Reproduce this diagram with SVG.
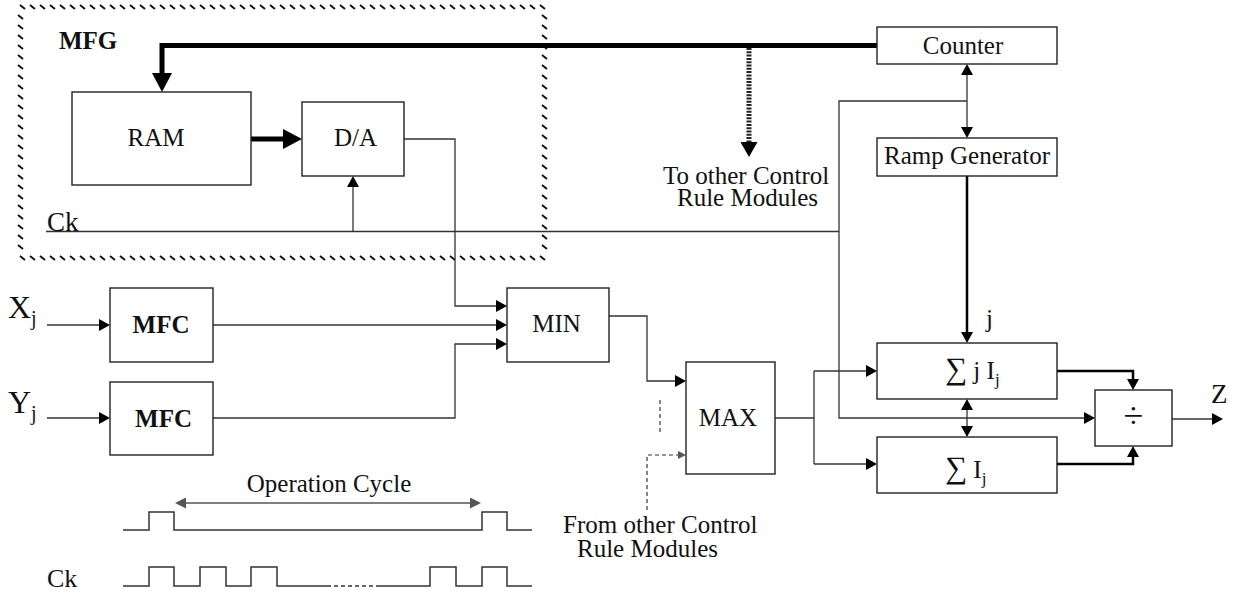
<svg xmlns="http://www.w3.org/2000/svg" width="1242" height="594" viewBox="0 0 1242 594">
<style>
.box{fill:#fff;stroke:#222;stroke-width:1.4}
.ln{fill:none;stroke:#333;stroke-width:1.3}
.thick{fill:none;stroke:#000;stroke-width:5}
.med{fill:none;stroke:#000;stroke-width:2.5}
.dash{fill:none;stroke:#333;stroke-width:1.2;stroke-dasharray:4 3}
.sig{fill:none;stroke:#333;stroke-width:1.5}
.tick{fill:none;stroke:#111;stroke-width:1.9}
.t{font-family:"Liberation Serif","Times New Roman",serif;font-size:25px;fill:#111}
.b{font-weight:bold}
</style>
<defs>
<marker id="a" markerUnits="userSpaceOnUse" markerWidth="11" markerHeight="12" viewBox="0 0 11 12" refX="0" refY="6" orient="auto-start-reverse">
<path d="M0,0 L11,6 L0,12 z" fill="#000"/>
</marker>
<marker id="big" markerUnits="userSpaceOnUse" markerWidth="19" markerHeight="20" viewBox="0 0 19 20" refX="0" refY="10" orient="auto">
<path d="M0,0 L19,10 L0,20 z" fill="#000"/>
</marker>
<marker id="mid" markerUnits="userSpaceOnUse" markerWidth="15" markerHeight="17" viewBox="0 0 15 17" refX="0" refY="8.5" orient="auto">
<path d="M0,0 L15,8.5 L0,17 z" fill="#000"/>
</marker>
<marker id="g" markerUnits="userSpaceOnUse" markerWidth="11" markerHeight="11" viewBox="0 0 11 11" refX="0" refY="5.5" orient="auto-start-reverse">
<path d="M0,0 L11,5.5 L0,11 z" fill="#555"/>
</marker>
<marker id="s" markerUnits="userSpaceOnUse" markerWidth="8" markerHeight="8" viewBox="0 0 8 8" refX="0" refY="4" orient="auto">
<path d="M0,0 L8,4 L0,8 z" fill="#555"/>
</marker>
</defs>
<rect width="1242" height="594" fill="#fff"/>

<g id="mfg-frame">
<path class="tick" d="M20,5 l5,4m5,-4l5,4m5,-4l5,4m5,-4l5,4m5,-4l5,4m5,-4l5,4m5,-4l5,4m5,-4l5,4m5,-4l5,4m5,-4l5,4m5,-4 l5,4m5,-4l5,4m5,-4l5,4m5,-4l5,4m5,-4l5,4m5,-4l5,4m5,-4l5,4m5,-4l5,4m5,-4l5,4m5,-4l5,4m5,-4 l5,4m5,-4l5,4m5,-4l5,4m5,-4l5,4m5,-4l5,4m5,-4l5,4m5,-4l5,4m5,-4l5,4m5,-4l5,4m5,-4l5,4m5,-4 l5,4m5,-4l5,4m5,-4l5,4m5,-4l5,4m5,-4l5,4m5,-4l5,4m5,-4l5,4m5,-4l5,4m5,-4l5,4m5,-4l5,4m5,-4 l5,4m5,-4l5,4m5,-4l5,4m5,-4l5,4m5,-4l5,4m5,-4l5,4m5,-4l5,4m5,-4l5,4m5,-4l5,4m5,-4l5,4m5,-4 l5,4m5,-4l5,4m5,-4l5,4"/>
<path class="tick" d="M20,256 l5,4m5,-4l5,4m5,-4l5,4m5,-4l5,4m5,-4l5,4m5,-4l5,4m5,-4l5,4m5,-4l5,4m5,-4l5,4m5,-4l5,4m5,-4 l5,4m5,-4l5,4m5,-4l5,4m5,-4l5,4m5,-4l5,4m5,-4l5,4m5,-4l5,4m5,-4l5,4m5,-4l5,4m5,-4l5,4m5,-4 l5,4m5,-4l5,4m5,-4l5,4m5,-4l5,4m5,-4l5,4m5,-4l5,4m5,-4l5,4m5,-4l5,4m5,-4l5,4m5,-4l5,4m5,-4 l5,4m5,-4l5,4m5,-4l5,4m5,-4l5,4m5,-4l5,4m5,-4l5,4m5,-4l5,4m5,-4l5,4m5,-4l5,4m5,-4l5,4m5,-4 l5,4m5,-4l5,4m5,-4l5,4m5,-4l5,4m5,-4l5,4m5,-4l5,4m5,-4l5,4m5,-4l5,4m5,-4l5,4m5,-4l5,4m5,-4 l5,4m5,-4l5,4m5,-4l5,4"/>
<path class="tick" d="M18,15 l5,4m-5,6l5,4m-5,6l5,4m-5,6l5,4m-5,6l5,4m-5,6l5,4m-5,6l5,4m-5,6l5,4m-5,6l5,4m-5,6l5,4m-5,6 l5,4m-5,6l5,4m-5,6l5,4m-5,6l5,4m-5,6l5,4m-5,6l5,4m-5,6l5,4m-5,6l5,4m-5,6l5,4m-5,6l5,4m-5,6 l5,4m-5,6l5,4m-5,6l5,4m-5,6l5,4"/>
<path class="tick" d="M542,15 l5,4m-5,6l5,4m-5,6l5,4m-5,6l5,4m-5,6l5,4m-5,6l5,4m-5,6l5,4m-5,6l5,4m-5,6l5,4m-5,6l5,4m-5,6 l5,4m-5,6l5,4m-5,6l5,4m-5,6l5,4m-5,6l5,4m-5,6l5,4m-5,6l5,4m-5,6l5,4m-5,6l5,4m-5,6l5,4m-5,6 l5,4m-5,6l5,4m-5,6l5,4m-5,6l5,4"/>
<text class="t b" x="59" y="49">MFG</text>
</g>

<g id="connectors">
<path class="thick" d="M877,45.5 H162 V73" marker-end="url(#big)"/>
<path class="thick" d="M251,139 H283" marker-end="url(#big)"/>
<path d="M749,48 V142" fill="none" stroke="#222" stroke-width="5" stroke-dasharray="2 1.3" marker-end="url(#mid)"/>
<path class="ln" d="M46,231.5 H839"/>
<path class="ln" d="M353,231.5 V187" marker-end="url(#a)"/>
<path class="ln" d="M404,139 H455 V306 H496" marker-end="url(#a)"/>
<path class="ln" d="M47,325 H99" marker-end="url(#a)"/>
<path class="ln" d="M47,418 H99" marker-end="url(#a)"/>
<path class="ln" d="M213,325 H496" marker-end="url(#a)"/>
<path class="ln" d="M213,418 H455 V344 H496" marker-end="url(#a)"/>
<path class="ln" d="M609,316 H647 V381 H675" marker-end="url(#a)"/>
<path class="dash" d="M660,400 V435"/>
<path class="dash" d="M647,510 V455 H678" marker-end="url(#s)"/>
<path class="ln" d="M775,418 H814"/>
<path class="ln" d="M814,371 V464"/>
<path class="ln" d="M814,371 H866" marker-end="url(#a)"/>
<path class="ln" d="M814,464 H866" marker-end="url(#a)"/>
<path class="ln" d="M967,75 V127" marker-start="url(#a)" marker-end="url(#a)"/>
<path class="ln" d="M967,101 H839 V418 H1084" marker-end="url(#a)"/>
<path class="med" d="M967,176 V332" marker-end="url(#a)"/>
<path class="ln" d="M967,410 V426" marker-start="url(#a)" marker-end="url(#a)"/>
<path class="med" d="M1057,371 H1133 V379" marker-end="url(#a)"/>
<path class="med" d="M1057,464 H1133 V457" marker-end="url(#a)"/>
<path class="ln" d="M1172,419 H1212" marker-end="url(#a)"/>
</g>

<g id="ram"><rect class="box" x="72" y="92" width="179" height="93"/><text class="t" x="156" y="146" text-anchor="middle">RAM</text></g>
<g id="da"><rect class="box" x="302" y="102" width="102" height="74"/><text class="t" x="355.5" y="146" text-anchor="middle">D/A</text></g>
<g id="counter"><rect class="box" x="877" y="27" width="180" height="37"/><text class="t" x="963" y="54" text-anchor="middle">Counter</text></g>
<g id="ramp"><rect class="box" x="877" y="138" width="180" height="38"/><text class="t" x="967" y="164" text-anchor="middle">Ramp Generator</text></g>
<g id="mfc1"><rect class="box" x="110" y="288" width="103" height="74"/><text class="t b" x="161" y="333" text-anchor="middle">MFC</text></g>
<g id="mfc2"><rect class="box" x="110" y="382" width="103" height="73"/><text class="t b" x="163.5" y="427" text-anchor="middle">MFC</text></g>
<g id="min"><rect class="box" x="507" y="288" width="102" height="74"/><text class="t" x="556.5" y="332" text-anchor="middle">MIN</text></g>
<g id="max"><rect class="box" x="686" y="362" width="89" height="112"/><text class="t" x="728" y="426" text-anchor="middle">MAX</text></g>
<g id="sumjij"><rect class="box" x="877" y="343" width="180" height="56"/><text class="t" x="945" y="379"><tspan font-size="31">∑</tspan> j I<tspan font-size="17" dy="6">j</tspan></text></g>
<g id="sumij"><rect class="box" x="877" y="437" width="180" height="56"/><text class="t" x="945" y="478"><tspan font-size="31">∑</tspan> I<tspan font-size="17" dy="6">j</tspan></text></g>
<g id="div"><rect class="box" x="1095" y="390" width="77" height="56"/><text class="t" x="1133.5" y="428" text-anchor="middle" style="font-size:36px">÷</text></g>

<g id="labels">
<text class="t" x="8" y="318" style="font-size:32px">X<tspan font-size="20" dy="7">j</tspan></text>
<text class="t" x="8" y="413" style="font-size:32px">Y<tspan font-size="20" dy="7">j</tspan></text>
<text class="t" x="47" y="231" style="font-size:27px">Ck</text>
<text class="t" x="986" y="327">j</text>
<text class="t" x="1211" y="403" style="font-size:27px">Z</text>
<text class="t" y="184"><tspan x="663">To other Control</tspan><tspan x="677" y="206">Rule Modules</tspan></text>
<text class="t" y="533"><tspan x="563">From other Control</tspan><tspan x="577" y="557">Rule Modules</tspan></text>
</g>

<g id="timing">
<text class="t" x="329" y="492" text-anchor="middle">Operation Cycle</text>
<path d="M186,503 H470" fill="none" stroke="#555" stroke-width="1.5" marker-start="url(#g)" marker-end="url(#g)"/>
<path class="sig" d="M123,530 H149 V512 H174 V530 H482 V512 H507 V530 H532"/>
<path class="sig" d="M123,586 H149 V567 H174 V586 H200 V567 H226 V586 H251 V567 H277 V586 H327"/>
<path class="sig" d="M327,586 H378" stroke-dasharray="4 3"/>
<path class="sig" d="M378,586 H430 V567 H456 V586 H482 V567 H507 V586 H532"/>
<text class="t" x="47" y="587" style="font-size:26px">Ck</text>
</g>
</svg>
